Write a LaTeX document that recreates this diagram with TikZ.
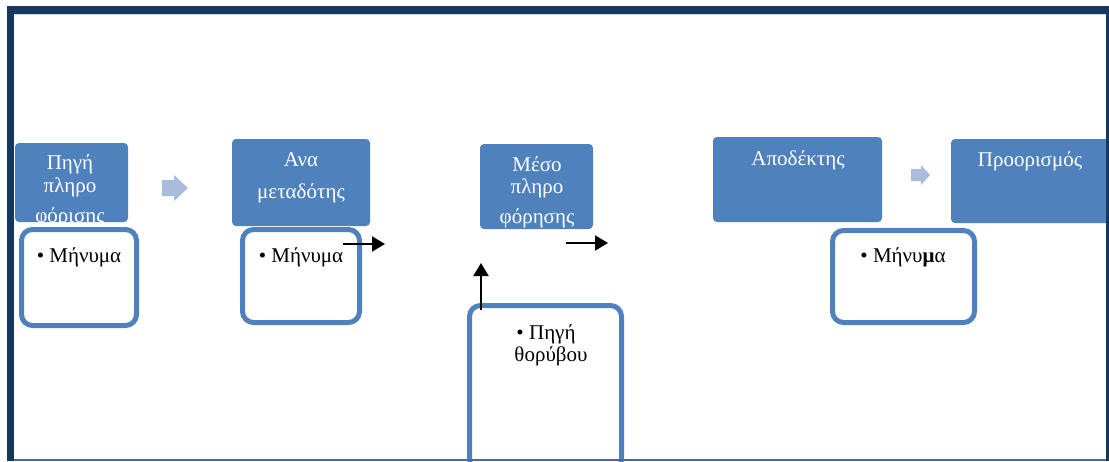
\documentclass[tikz,border=0pt]{standalone}
\usepackage{fontspec}
\setmainfont{Liberation Serif}
\usetikzlibrary{arrows.meta}
\definecolor{navy}{HTML}{17375E}
\definecolor{boxblue}{HTML}{4F81BD}
\definecolor{paleblue}{HTML}{A9BCDD}
\definecolor{edgeblue}{HTML}{4A6A96}
\definecolor{lavender}{HTML}{D6DCEF}
\begin{document}
\begin{tikzpicture}[x=1pt,y=-1pt,
  stage/.style={fill=boxblue, draw=none, rounded corners=4pt, anchor=north west, inner sep=0pt, outer sep=0pt},
  note/.style={draw=boxblue, line width=5pt, fill=white, rounded corners=11pt, anchor=north west, inner sep=0pt, outer sep=0pt},
  wtext/.style={text=white, anchor=base, inner sep=0pt, font=\fontsize{21}{25}\selectfont},
  btext/.style={text=black, anchor=base, inner sep=0pt, font=\fontsize{21}{25}\selectfont},
  flow/.style={-{Triangle[length=13pt,width=15pt]}, line width=2pt, black},
  hint/.style={fill=paleblue, draw=none}
]
\useasboundingbox (0,0) rectangle (1109,461);
\clip (0,0) rectangle (1109,461);
\fill[white] (0,0) rectangle (1109,461);

% stages of the communication chain
\node[stage, minimum width=113pt, minimum height=79pt] (src) at (15,143) {};
\node[stage, minimum width=138pt, minimum height=87pt] (trans) at (232,139) {};
\node[stage, minimum width=113pt, minimum height=85pt] (chan) at (480,144) {};
\node[stage, minimum width=169pt, minimum height=85pt] (recv) at (713,137) {};
\node[stage, minimum width=161pt, minimum height=84pt] (dest) at (951,139) {};

% stage labels (overflowing lines are cut at the box edge)
\begin{scope}
  \clip (15,143) rectangle (128,222);
  \node[wtext] (src1) at (70,169) {Πηγή};
  \node[wtext] (src2) at (70,192) {πληρο};
  \node[wtext] (src3) at (70,222) {φόρισης};
\end{scope}
\node[wtext] (trans1) at (301,166) {Ανα};
\node[wtext] (trans2) at (301,198) {μεταδότης};
\begin{scope}
  \clip (480,144) rectangle (593,229);
  \node[wtext] (chan1) at (537,171) {Μέσο};
  \node[wtext] (chan2) at (537,193) {πληρο};
  \node[wtext] (chan3) at (537,223) {φόρησης};
\end{scope}
\node[wtext] (recv1) at (798,165) {Αποδέκτης};
\node[wtext] (dest1) at (1030,166) {Προορισμός};

% pale arrows between stages
\fill[hint] (162,180) -- (174,180) -- (174,175) -- (188,188) -- (174,201) -- (174,196) -- (162,196) -- cycle;
\fill[hint] (911,169) -- (921,169) -- (921,165) -- (930,175) -- (921,185) -- (921,181) -- (911,181) -- cycle;

% sub-boxes
\node[note, minimum width=115pt, minimum height=96pt] (msgA) at (21.5,229.5) {};
\node[note, minimum width=117pt, minimum height=93pt] (msgB) at (242.5,229.5) {};
\node[note, minimum width=152pt, minimum height=165pt] (noise) at (469.5,305.5) {};
\node[note, minimum width=142pt, minimum height=92pt] (msgD) at (832.5,230.5) {};

\node[btext] (msgA1) at (79,262) {• Μήνυμα};
\node[btext] (msgB1) at (301,262) {• Μήνυμα};
\node[btext] (msgD1) at (903,262) {• Μήνυ\textbf{μ}α};
\node[btext] (noise1) at (546,339) {• Πηγή};
\node[btext] (noise2) at (551,361) {θορύβου};

% black arrows
\coordinate (a1s) at (343,244);
\coordinate (a1e) at (385,244);
\coordinate (a2s) at (566,243);
\coordinate (a2e) at (608,243);
\coordinate (a3s) at (481,310);
\coordinate (a3e) at (481,263);
\draw[flow] (a1s) -- (a1e);
\draw[flow] (a2s) -- (a2e);
\draw[flow] (a3s) -- (a3e);

% outer frame
\fill[navy] (7,6) rectangle (1109,14);
\fill[navy] (7,6) rectangle (14,461);
\fill[navy] (1106,6) rectangle (1109,461);
\fill[lavender] (14,14) rectangle (1106,15);
\fill[edgeblue] (14,458.5) rectangle (1106,460.5);
\end{tikzpicture}
\end{document}
